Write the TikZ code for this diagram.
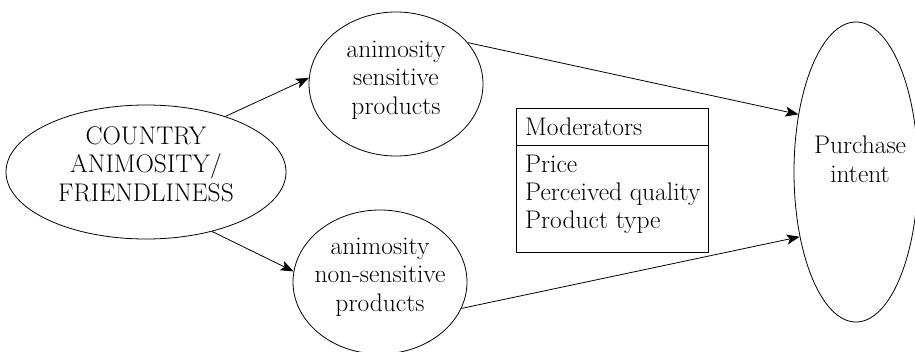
\documentclass[tikz,border=0pt]{standalone}
\usepackage{fontspec}
\usetikzlibrary{arrows.meta,shapes.geometric}
\begin{document}
\begin{tikzpicture}[x=1pt,y=-1pt,
  ell/.style={draw, ellipse, line width=0.8pt, inner sep=0pt},
  lbl/.style={align=center, font=\fontsize{25.5}{28.5}\selectfont, inner sep=0pt},
  mtxt/.style={anchor=base west, font=\fontsize{25.5}{28.5}\selectfont, inner sep=0pt},
  arr/.style={-{Stealth[length=13pt,width=10pt,inset=3pt]}, line width=0.8pt}]
\useasboundingbox (0,0) rectangle (915,351);
% ellipses
\node[ell, minimum width=280pt, minimum height=134pt] (cty) at (146,172) {};
\node[ell, minimum width=174pt, minimum height=144pt] (sens) at (396,84) {};
\node[ell, minimum width=174pt, minimum height=144pt] (nons) at (380,282) {};
\node[ell, minimum width=124pt, minimum height=300pt] (pi) at (856,172) {};
% labels
\node[lbl] (ctyT) at (146,164) {COUNTRY\\ANIMOSITY/\\FRIENDLINESS};
\node[lbl] (sensT) at (396,80) {animosity\\sensitive\\products};
\node[lbl] (nonsT) at (380,277) {animosity\\non-sensitive\\products};
\node[lbl] (piT) at (860,159) {Purchase\\intent};
% moderators box
\node[draw, line width=0.8pt, anchor=north west, minimum width=192pt, minimum height=144pt, inner sep=0pt] (mod) at (516,108) {};
\coordinate (divL) at (516,145);
\coordinate (divR) at (708,145);
\draw[line width=0.8pt] (divL) -- (divR);
\node[mtxt] (m0) at (525,135) {Moderators};
\node[mtxt] (m1) at (525,172) {Price};
\node[mtxt] (m2) at (525,200) {Perceived quality};
\node[mtxt] (m3) at (525,228) {Product type};
% arrows
\draw[arr] (cty.35) -- (sens.176);
\draw[arr] (cty.-42) -- (nons.173);
\draw[arr] (sens.30) -- (pi.135);
\draw[arr] (nons.-18) -- (pi.229);
\end{tikzpicture}
\end{document}
